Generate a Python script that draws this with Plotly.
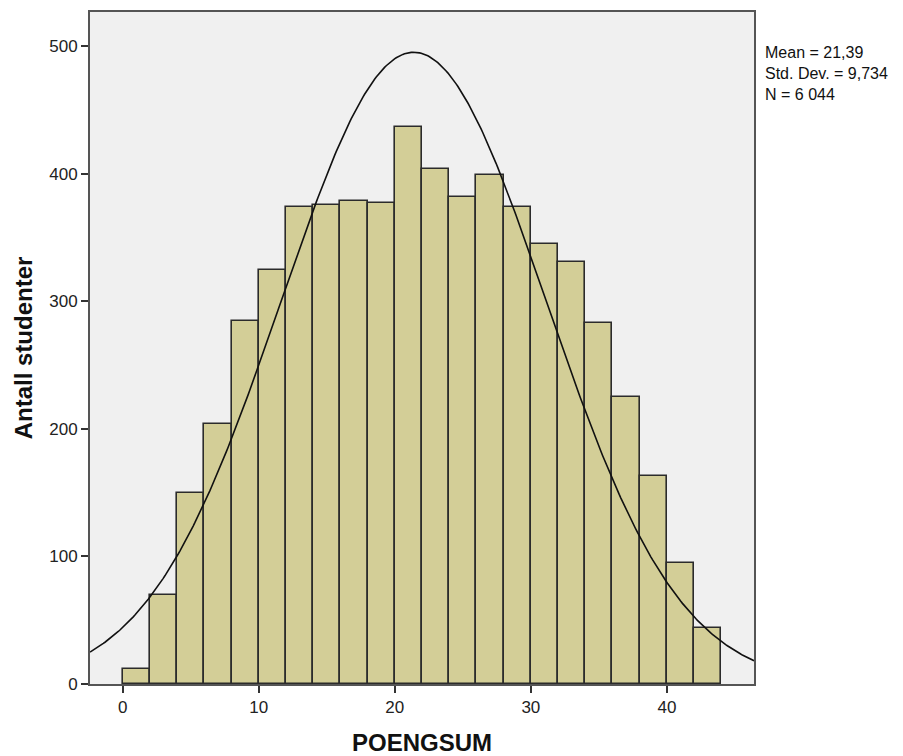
import numpy as np
import plotly.graph_objects as go

# Histogram of POENGSUM, bins of width 2
bin_starts = [0, 2, 4, 6, 8, 10, 12, 14, 16, 18, 20, 22, 24, 26, 28, 30, 32, 34, 36, 38, 40, 42]
counts = [12, 70, 150, 204, 285, 325, 374, 376, 379, 377, 437, 404, 382, 399, 374, 345, 331, 283, 225, 163, 95, 44]
bin_width = 2

# Summary statistics shown in the side box
mean = 21.39
std_dev = 9.734
n_total = 6044

x_ticks = [0, 10, 20, 30, 40]
y_ticks = [0, 100, 200, 300, 400, 500]

bin_centers = [s + bin_width / 2 for s in bin_starts]

# Fitted normal curve scaled to counts per bin
xs = np.linspace(-2.4, 46.4, 400)
ys = n_total * bin_width / (std_dev * np.sqrt(2 * np.pi)) * np.exp(-0.5 * ((xs - mean) / std_dev) ** 2)

fig = go.Figure()
fig.add_trace(go.Bar(
    x=bin_centers, y=counts, width=bin_width,
    marker=dict(color="#D3CE97", line=dict(color="#2b2b2b", width=1.6)),
    hoverinfo="x+y",
))
fig.add_trace(go.Scatter(
    x=xs, y=ys, mode="lines",
    line=dict(color="#111111", width=1.6),
    hoverinfo="skip",
))

font_family = "Liberation Sans, Arial, sans-serif"

stats_text = "<br>".join([
    "Mean = " + f"{mean:.2f}".replace(".", ","),
    "Std. Dev. = " + f"{std_dev:.3f}".replace(".", ","),
    "N = " + f"{n_total:,}".replace(",", " "),
])

fig.update_layout(
    width=903, height=756,
    margin=dict(l=90, r=149, t=12, b=72),
    paper_bgcolor="white",
    plot_bgcolor="#F0F0F0",
    showlegend=False,
    bargap=0,
    font=dict(family=font_family, color="#222222", size=17),
    xaxis=dict(
        range=[-2.4, 46.4],
        tickvals=x_ticks,
        ticks="outside", ticklen=7, tickwidth=2, tickcolor="#333333",
        showline=True, linecolor="#555555", linewidth=2, mirror=True,
        showgrid=False, zeroline=False, automargin=False,
        tickfont=dict(size=17, color="#222222"),
        title=dict(text="<b>POENGSUM</b>", font=dict(size=24, color="#111111"), standoff=22),
    ),
    yaxis=dict(
        range=[0, 527],
        tickvals=y_ticks,
        ticks="outside", ticklen=7, tickwidth=2, tickcolor="#333333",
        showline=True, linecolor="#555555", linewidth=2, mirror=True,
        showgrid=False, zeroline=False, automargin=False,
        tickfont=dict(size=17, color="#222222"),
        title=dict(text="<b>Antall studenter</b>", font=dict(size=24, color="#111111"), standoff=10),
    ),
    annotations=[dict(
        xref="paper", yref="paper", x=1.013, y=0.955,
        xanchor="left", yanchor="top", align="left", showarrow=False,
        text=stats_text,
        font=dict(size=16, color="#111111", family=font_family),
    )],
)

fig.write_html("out.html")
